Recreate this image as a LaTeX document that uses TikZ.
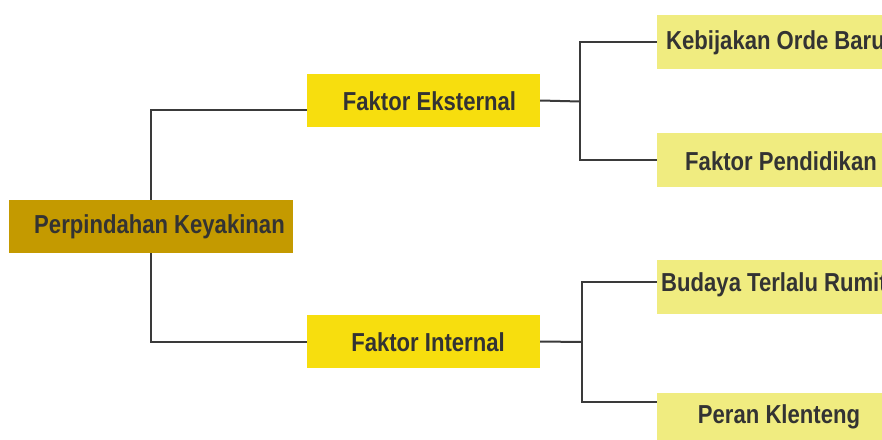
\documentclass[tikz,border=0pt]{standalone}
\usepackage{fontspec}
\newfontfamily\lbl{Liberation Sans}[FakeStretch=0.85]
\definecolor{rootc}{RGB}{196,154,0}
\definecolor{midc}{RGB}{247,222,14}
\definecolor{leafc}{RGB}{240,236,128}
\definecolor{ink}{RGB}{51,51,51}
\definecolor{linec}{RGB}{58,58,58}
\tikzset{
  box/.style={draw=none, rectangle, inner sep=0pt},
  rootbox/.style={box, fill=rootc, minimum width=284pt, minimum height=53pt},
  midbox/.style={box, fill=midc, minimum width=233pt, minimum height=53pt},
  leafbox/.style={box, fill=leafc, minimum width=248pt, minimum height=54pt},
  txt/.style={inner sep=0pt, text=ink, font=\lbl\bfseries\fontsize{26}{30}\selectfont},
  conn/.style={draw=linec, line width=2pt}
}
\begin{document}
\begin{tikzpicture}[x=1pt,y=-1pt]
\useasboundingbox (0,0) rectangle (882,439);
\clip (0,0) rectangle (882,439);
% boxes
\node[rootbox] (root) at (151,226.5) {};
\node[midbox] (eks) at (423.5,100.5) {};
\node[midbox] (int) at (423.5,341.5) {};
\node[leafbox] (keb) at (781,42) {};
\node[leafbox] (pen) at (781,160) {};
\node[leafbox] (bud) at (781,286.5) {};
\node[leafbox] (per) at (781,420) {};
% texts
\node[txt] (troot) at (159.5,226.5) {Perpindahan Keyakinan};
\node[txt] (teks) at (429.5,101.5) {Faktor Eksternal};
\node[txt] (tint) at (428,342) {Faktor Internal};
\node[txt, anchor=west] (tkeb) at (666,43) {Kebijakan Orde Baru};
\node[txt] (tpen) at (781,161) {Faktor Pendidikan};
\node[txt, anchor=west] (tbud) at (661,285) {Budaya Terlalu Rumit};
\node[txt] (tper) at (779,417) {Peran Klenteng};
% connectors
\coordinate (j1) at (580,101.5);
\coordinate (j2) at (582,342);
\draw[conn] (root.north) |- ([yshift=-9.5pt]eks.west);
\draw[conn] (root.south) |- (int.west);
\draw[conn] (eks.east) -- (j1);
\draw[conn] (keb.west) -| (j1) |- (pen.west);
\draw[conn] (int.east) -- (j2);
\draw[conn] ([yshift=4.5pt]bud.west) -| (j2) |- ([yshift=18.5pt]per.west);
\end{tikzpicture}
\end{document}
